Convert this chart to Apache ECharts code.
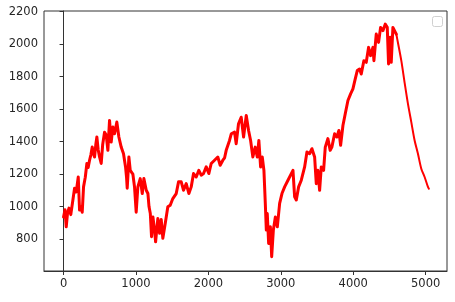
<!DOCTYPE html>
<html>
<head>
<meta charset="utf-8">
<script src="https://cdn.jsdelivr.net/npm/echarts@6/dist/echarts.min.js"></script>
<style>
html,body{margin:0;padding:0;background:#fff;}
#chart{width:455px;height:302px;}
</style>
</head>
<body>
<div id="chart"></div>
<script>
const histX = [0,20,37,55,75,100,129,152,175,203,221,240,258,276,300,322,340,359,378,396,410,428,445,460,478,497,520,540,566,589,612,635,658,681,704,736,764,796,828,856,870,879,890,902,921,957,980,1003,1026,1059,1087,1109,1142,1165,1180,1198,1215,1234,1257,1271,1302,1326,1349,1371,1404,1440,1473,1509,1556,1588,1625,1657,1694,1731,1763,1795,1832,1868,1901,1933,1970,2006,2039,2085,2130,2163,2200,2224,2246,2292,2316,2361,2384,2416,2453,2486,2523,2555,2583,2614,2647,2675,2697,2721,2744,2767,2786,2800,2813,2832,2856,2874,2897,2925,2952,2984,3016,3053,3099,3145,3168,3191,3214,3246,3283,3329,3361,3398,3430,3467,3490,3512,3536,3559,3591,3614,3650,3682,3705,3743,3775,3802,3826,3858,3890,3927,3964,3996,4028,4056,4088,4111,4147,4180,4212,4240,4272,4286,4318,4350,4378,4410,4442,4470,4488,4511,4525,4548,4572,4595];
const histY = [935,980,875,960,990,950,1040,1113,1090,1182,978,1000,965,1121,1180,1265,1240,1285,1320,1366,1330,1305,1380,1428,1350,1305,1265,1380,1458,1440,1346,1530,1397,1489,1448,1520,1428,1366,1325,1244,1180,1113,1200,1305,1223,1200,1121,965,1121,1172,1080,1172,1100,1080,1000,957,814,936,855,783,926,835,920,804,895,998,1008,1049,1080,1152,1152,1100,1141,1080,1121,1203,1182,1223,1193,1203,1244,1203,1265,1285,1305,1254,1285,1300,1346,1407,1448,1458,1387,1510,1550,1428,1561,1468,1407,1305,1366,1305,1407,1244,1305,1223,1019,855,957,773,875,691,855,936,875,1019,1080,1121,1162,1203,1223,1060,1040,1121,1162,1244,1336,1325,1356,1305,1141,1223,1100,1244,1223,1366,1418,1346,1366,1448,1428,1468,1377,1499,1571,1653,1694,1724,1786,1837,1847,1816,1898,1888,1980,1929,1980,1898,2062,2011,2103,2083,2123,2103,1878,2042,1888,2103,2113,2062];
const projX = [4595,4617,4664,4709,4756,4802,4848,4893,4940,4986,5032,5045];
const projY = [2062,2010,1898,1765,1632,1520,1407,1326,1233,1182,1121,1110];
const xTicks = [0,1000,2000,3000,4000,5000];
const yTicks = [800,1000,1200,1400,1600,1800,2000,2200];

const histPoints = histX.map((x, i) => [x, histY[i]]);
const projPoints = projX.map((x, i) => [x, projY[i]]);
const chart = echarts.init(document.getElementById('chart'), null, {renderer: 'canvas'});
const labelStyle = {fontFamily: 'DejaVu Sans', fontSize: 11.5, color: '#262626', formatter: v => String(v)};
chart.setOption({
  animation: false,
  backgroundColor: '#ffffff',
  grid: {left: 44, right: 8, top: 11, bottom: 31, show: true, borderColor: '#333', borderWidth: 1, backgroundColor: 'transparent'},
  xAxis: {
    type: 'value', min: -270, max: 5295,
    axisLine: {show: true, lineStyle: {color: '#333', width: 1}},
    axisTick: {show: true, inside: false, length: 4, customValues: xTicks, lineStyle: {color: '#333'}},
    axisLabel: Object.assign({customValues: xTicks, margin: 7}, labelStyle),
    splitLine: {show: false}
  },
  yAxis: {
    type: 'value', min: 603, max: 2204,
    axisLine: {show: true, lineStyle: {color: '#333', width: 1}},
    axisTick: {show: true, inside: false, length: 4, customValues: yTicks, lineStyle: {color: '#333'}},
    axisLabel: Object.assign({customValues: yTicks, margin: 6}, labelStyle),
    splitLine: {show: false}
  },
  graphic: [{
    type: 'rect', left: 432, top: 16, shape: {width: 10, height: 10, r: 2},
    style: {fill: '#fff', stroke: '#d0d0d0', lineWidth: 1}, z: 100
  }],
  series: [{
    type: 'line', data: histPoints, showSymbol: false, symbol: 'none',
    lineStyle: {color: '#ff0000', width: 3, join: 'round', cap: 'round'}, itemStyle: {color: '#ff0000'}
  }, {
    type: 'line', data: projPoints, showSymbol: false, symbol: 'none', smooth: 0.3,
    lineStyle: {color: '#ff0000', width: 2, cap: 'round'}, itemStyle: {color: '#ff0000'}
  }]
});
</script>
</body>
</html>
